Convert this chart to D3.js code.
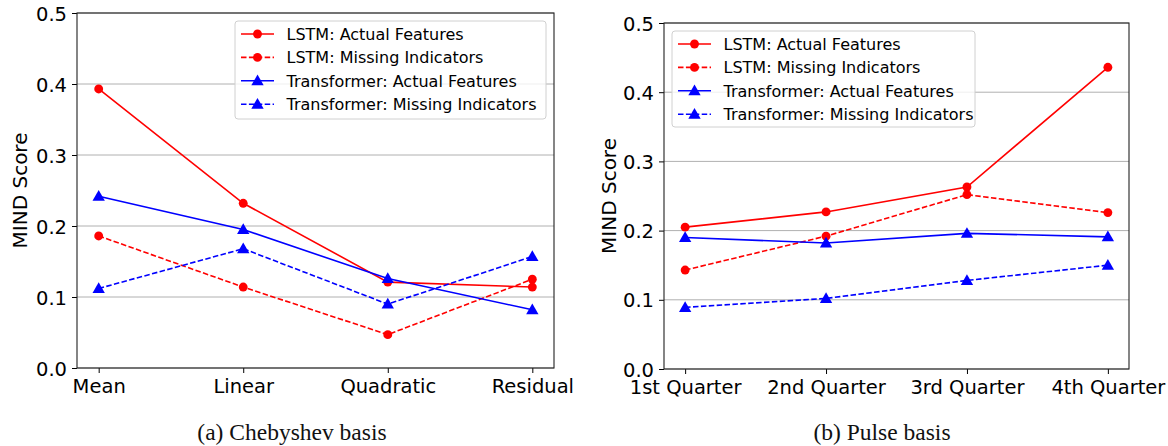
<!DOCTYPE html>
<html><head><meta charset="utf-8">
<script src="https://cdn.jsdelivr.net/npm/d3@7"></script>
<style>body{margin:0;background:#fff}svg{display:block}</style>
</head><body><svg id="c" width="1168" height="446"></svg>
<script>
const catsA = ["Mean", "Linear", "Quadratic", "Residual"];
const catsB = ["1st Quarter", "2nd Quarter", "3rd Quarter", "4th Quarter"];
const seriesNames = ["LSTM: Actual Features", "LSTM: Missing Indicators", "Transformer: Actual Features", "Transformer: Missing Indicators"];
const lstmActualA = [0.393, 0.232, 0.121, 0.114];
const lstmMissingA = [0.186, 0.114, 0.047, 0.125];
const transActualA = [0.242, 0.195, 0.126, 0.082];
const transMissingA = [0.112, 0.168, 0.090, 0.157];
const lstmActualB = [0.205, 0.227, 0.263, 0.436];
const lstmMissingB = [0.143, 0.192, 0.252, 0.226];
const transActualB = [0.190, 0.182, 0.196, 0.191];
const transMissingB = [0.089, 0.102, 0.128, 0.150];
const yTicks = [0.0, 0.1, 0.2, 0.3, 0.4, 0.5];
const yLabel = "MIND Score";
const captions = ["(a) Chebyshev basis", "(b) Pulse basis"];

const styles = [
  {color: "#ff0000", dash: null, marker: "circle"},
  {color: "#ff0000", dash: "5.5,2.4", marker: "circle"},
  {color: "#0000ff", dash: null, marker: "triangle"},
  {color: "#0000ff", dash: "5.5,2.4", marker: "triangle"}
];

const svg = d3.select("#c");
const FONT = "'DejaVu Sans', sans-serif";

function marker(sel, st) {
  const sym = st.marker === "circle" ? d3.symbolCircle : d3.symbolTriangle;
  const size = st.marker === "circle" ? 62 : 66;
  return sel.attr("d", d3.symbol().type(sym).size(size)).attr("fill", st.color);
}

function panel(cfg) {
  const {x0, x1, y0, y1, cats, data, legend, ylabelX, caption, captionX} = cfg;
  const g = svg.append("g");
  const x = d3.scalePoint().domain(cats).range([x0, x1]).padding(0.15);
  const y = d3.scaleLinear().domain([0, 0.5]).range([y1, y0]);
  // grid
  g.append("g").selectAll("line").data(yTicks).join("line")
    .attr("x1", x0).attr("x2", x1).attr("y1", d => y(d)).attr("y2", d => y(d))
    .attr("stroke", "#b0b0b0").attr("stroke-width", 1);
  // series
  data.forEach((vals, i) => {
    const st = styles[i];
    const pts = cats.map((c, j) => [x(c), y(vals[j])]);
    g.append("path").attr("d", d3.line()(pts)).attr("fill", "none")
      .attr("stroke", st.color).attr("stroke-width", 1.6)
      .attr("stroke-dasharray", st.dash);
    g.append("g").selectAll("path").data(pts).join("path")
      .attr("transform", p => `translate(${p[0]},${p[1] + (st.marker === "triangle" ? 0.9 : 0)})`)
      .call(marker, st);
  });
  // axes
  const ax = g.append("g").attr("transform", `translate(0,${y1})`)
    .call(d3.axisBottom(x).tickSize(5).tickPadding(4));
  const ay = g.append("g").attr("transform", `translate(${x0},0)`)
    .call(d3.axisLeft(y).tickValues(yTicks).tickFormat(d3.format(".1f")).tickSize(5).tickPadding(5));
  [ax, ay].forEach(a => {
    a.select(".domain").remove();
    a.selectAll("text").attr("font-family", FONT).attr("font-size", 19.5).attr("fill", "#000");
    a.selectAll("line").attr("stroke", "#000").attr("stroke-width", 1);
  });
  ax.selectAll("text").attr("y", 25).attr("dy", 0);
  ay.selectAll("text").attr("dy", "0.36em");
  // frame
  g.append("rect").attr("x", x0).attr("y", y0).attr("width", x1 - x0).attr("height", y1 - y0)
    .attr("fill", "none").attr("stroke", "#222").attr("stroke-width", 1.1);
  // ylabel
  g.append("text").attr("transform", `translate(${ylabelX},${(y0 + y1) / 2}) rotate(-90)`)
    .attr("text-anchor", "middle").attr("font-family", FONT).attr("font-size", 20).text(yLabel);
  // legend
  const L = legend;
  const lg = g.append("g");
  lg.append("rect").attr("x", L.x).attr("y", L.y).attr("width", L.w).attr("height", L.h)
    .attr("rx", 3).attr("fill", "rgba(255,255,255,0.8)").attr("stroke", "#d0d0d0").attr("stroke-width", 1);
  seriesNames.forEach((name, i) => {
    const st = styles[i];
    const yy = L.y + 13 + i * 23.4;
    lg.append("line").attr("x1", L.x + 6).attr("x2", L.x + 39).attr("y1", yy).attr("y2", yy)
      .attr("stroke", st.color).attr("stroke-width", 1.6).attr("stroke-dasharray", st.dash ? "5.5,2.4" : null);
    lg.append("path").attr("transform", `translate(${L.x + 22.5},${yy + (st.marker === "triangle" ? 0.9 : 0)})`)
      .call(marker, st);
    lg.append("text").attr("x", L.x + 51.5).attr("y", yy).attr("dy", "0.36em")
      .attr("font-family", FONT).attr("font-size", 16).text(name);
  });
  // caption
  svg.append("text").attr("x", captionX).attr("y", 440).attr("text-anchor", "middle")
    .attr("font-family", "'Liberation Serif', 'Times New Roman', serif").attr("font-size", 23.5)
    .attr("fill", "#111").text(caption);
}

panel({x0: 77, x1: 554, y0: 13, y1: 368, cats: catsA,
  data: [lstmActualA, lstmMissingA, transActualA, transMissingA],
  legend: {x: 235, y: 21, w: 311, h: 98}, ylabelX: 27, caption: captions[0], captionX: 292});
panel({x0: 664, x1: 1129, y0: 23, y1: 369, cats: catsB,
  data: [lstmActualB, lstmMissingB, transActualB, transMissingB],
  legend: {x: 672, y: 31, w: 303, h: 96}, ylabelX: 616, caption: captions[1], captionX: 882});
</script></body></html>
